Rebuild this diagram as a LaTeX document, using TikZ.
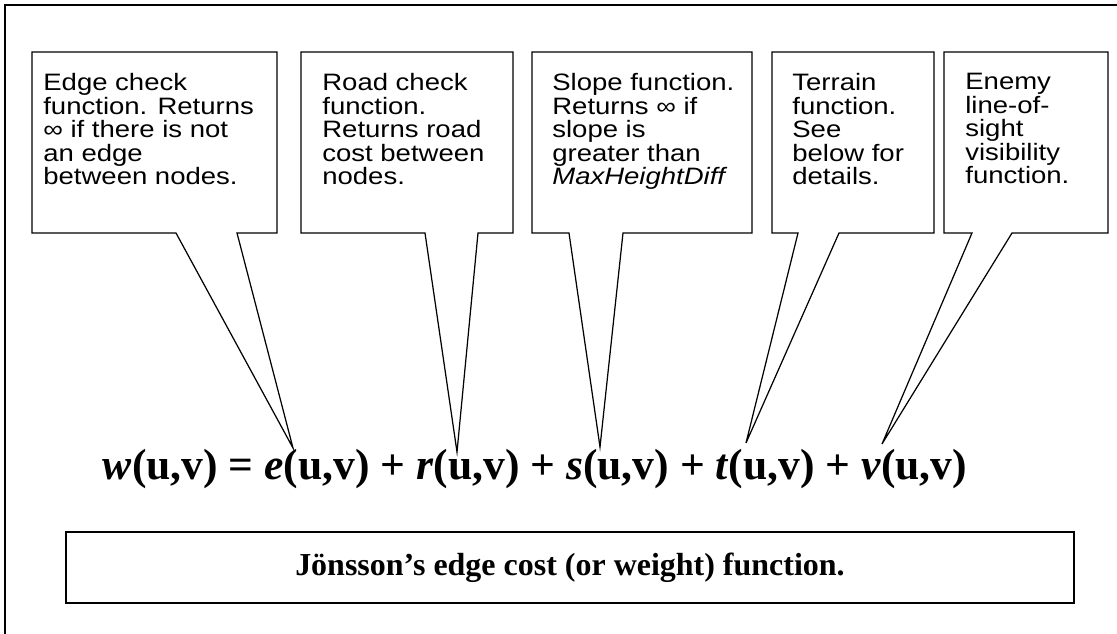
\documentclass[tikz,border=0pt]{standalone}
\usepackage{fontspec}
\setmainfont{Liberation Serif}
\newfontfamily\calloutfont[FakeStretch=1.16]{Liberation Sans}
\begin{document}
\begin{tikzpicture}[x=0.02cm,y=-0.02cm,
  callout/.style={draw=black,line width=0.7pt,line join=miter},
  callouttext/.style={anchor=north west,inner sep=0pt,align=left,
    font=\calloutfont\fontsize{13.5pt}{13.4pt}\selectfont},
  formula/.style={inner sep=0pt,anchor=base,font=\bfseries\fontsize{24.8pt}{30pt}\selectfont},
  captionbox/.style={draw=black,line width=1.1pt,minimum width=1008*0.02cm,minimum height=71*0.02cm,inner sep=0pt,
    font=\bfseries\fontsize{18.2pt}{22pt}\selectfont}]
\useasboundingbox (0,0) rectangle (1117,634);
\begin{scope}
\clip (0,0) rectangle (1117,634);
\draw[line width=1.3pt] (5,5) rectangle (1140,660);
\end{scope}

% callout text nodes
\node[callouttext] (t1) at (43,73) {Edge check\\function. Returns\\∞ if there is not\\an edge\\between nodes.};
\node[callouttext] (t2) at (322,73) {Road check\\function.\\Returns road\\cost between\\nodes.};
\node[callouttext] (t3) at (552,73) {Slope function.\\Returns ∞ if\\slope is\\greater than\\\textit{MaxHeightDiff}};
\node[callouttext] (t4) at (792,73) {Terrain\\function.\\See\\below for\\details.};
\node[callouttext] (t5) at (965,73) {Enemy\\line-of-\\sight\\visibility\\function.};

% formula
\node[formula] (f) at (535,480) {\textit{w}(u,v) = \textit{e}(u,v) + \textit{r}(u,v) + \textit{s}(u,v) + \textit{t}(u,v) + \textit{v}(u,v)};

% pointer tips
\coordinate (pe) at (293,448);
\coordinate (pr) at (457,452);
\coordinate (ps) at (600,447);
\coordinate (pt) at (746,443);
\coordinate (pv) at (882,444);

% callout outlines
\draw[callout] (32,52) -- (277,52) -- (277,233) -- (237,233) -- (pe) -- (176,233) -- (32,233) -- cycle;
\draw[callout] (301,52) -- (513,52) -- (513,233) -- (478,233) -- (pr) -- (425,233) -- (301,233) -- cycle;
\draw[callout] (532,52) -- (752,52) -- (752,233) -- (623,233) -- (ps) -- (569,233) -- (532,233) -- cycle;
\draw[callout] (772,52) -- (934,52) -- (934,233) -- (839,233) -- (pt) -- (798,233) -- (772,233) -- cycle;
\draw[callout] (944,52) -- (1108,52) -- (1108,233) -- (1012,233) -- (pv) -- (972,233) -- (944,233) -- cycle;

% caption box
\node[captionbox] (cap) at (570,567.5) {Jönsson’s edge cost (or weight) function.};
\end{tikzpicture}
\end{document}
